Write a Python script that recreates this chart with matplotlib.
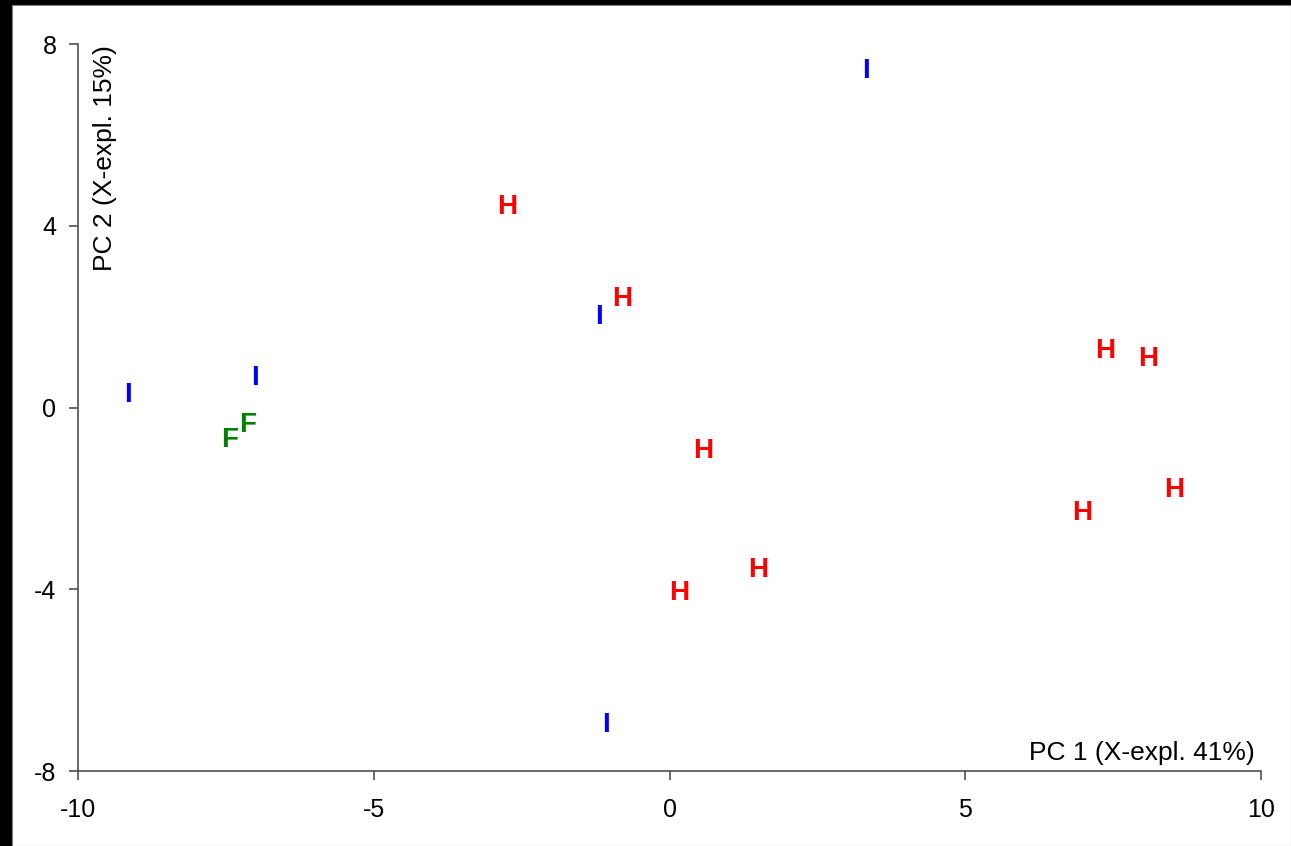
import matplotlib
matplotlib.use("Agg")
import matplotlib.pyplot as plt
from matplotlib.patches import Rectangle
from matplotlib.transforms import offset_copy

labels = ["I", "I", "F", "F", "H", "I", "H", "I", "H", "H", "H", "H", "H", "H", "H", "I"]
pc1 = [-9.15, -7.01, -7.43, -7.14, -2.75, -1.19, -0.80, 3.32, 7.36, 8.09, 0.57, 8.53, 6.97, 1.50, 0.16, -1.07]
pc2 = [0.33, 0.70, -0.66, -0.33, 4.47, 2.05, 2.46, 7.46, 1.30, 1.12, -0.90, -1.76, -2.27, -3.52, -4.03, -6.93]
colors = {"I": "#0000FF", "H": "#FF0000", "F": "#008000"}
xticks = [-10, -5, 0, 5, 10]
yticks = [-8, -4, 0, 4, 8]

plt.rcParams['font.family'] = ['Liberation Sans', 'DejaVu Sans']

W, H = 1291, 846
fig = plt.figure(figsize=(W / 100, H / 100), dpi=100, facecolor="black")
fig.add_artist(Rectangle((12 / W, 0), 1 - 12 / W, 1 - 5 / H, transform=fig.transFigure,
                         facecolor="white", edgecolor="#808080", linewidth=0.8, zorder=0))

ax = fig.add_axes([78 / W, (H - 771) / H, (1261 - 78) / W, (771 - 44) / H])
ax.set_facecolor("none")
ax.set_xlim(-10, 10)
ax.set_ylim(-8, 8)
ax.set_xticks(xticks)
ax.set_yticks(yticks)
ax.set_xticklabels([str(t) for t in xticks])
ax.set_yticklabels([str(t) for t in yticks])
for s in ["top", "right"]:
    ax.spines[s].set_visible(False)
for s in ["left", "bottom"]:
    ax.spines[s].set_color("#505050")
    ax.spines[s].set_linewidth(1.2)
ax.tick_params(direction="out", length=6.5, width=1.2, color="#505050", labelsize=18)
ax.tick_params(axis="x", pad=13)
ax.tick_params(axis="y", pad=9)

tr = offset_copy(ax.transData, fig=fig, x=0, y=-2, units="points")
for lab, x, y in zip(labels, pc1, pc2):
    ax.text(x, y, lab, color=colors[lab], fontsize=20, fontweight="bold",
            ha="center", va="center", transform=tr)

ax.text(0.995, 0.008, "PC 1 (X-expl. 41%)", transform=ax.transAxes,
        ha="right", va="bottom", fontsize=19)
ax.text(0.013, 0.998, "PC 2 (X-expl. 15%)", transform=ax.transAxes,
        ha="left", va="top", rotation=90, fontsize=19)

fig.savefig("out.png", dpi=100, facecolor="black")
